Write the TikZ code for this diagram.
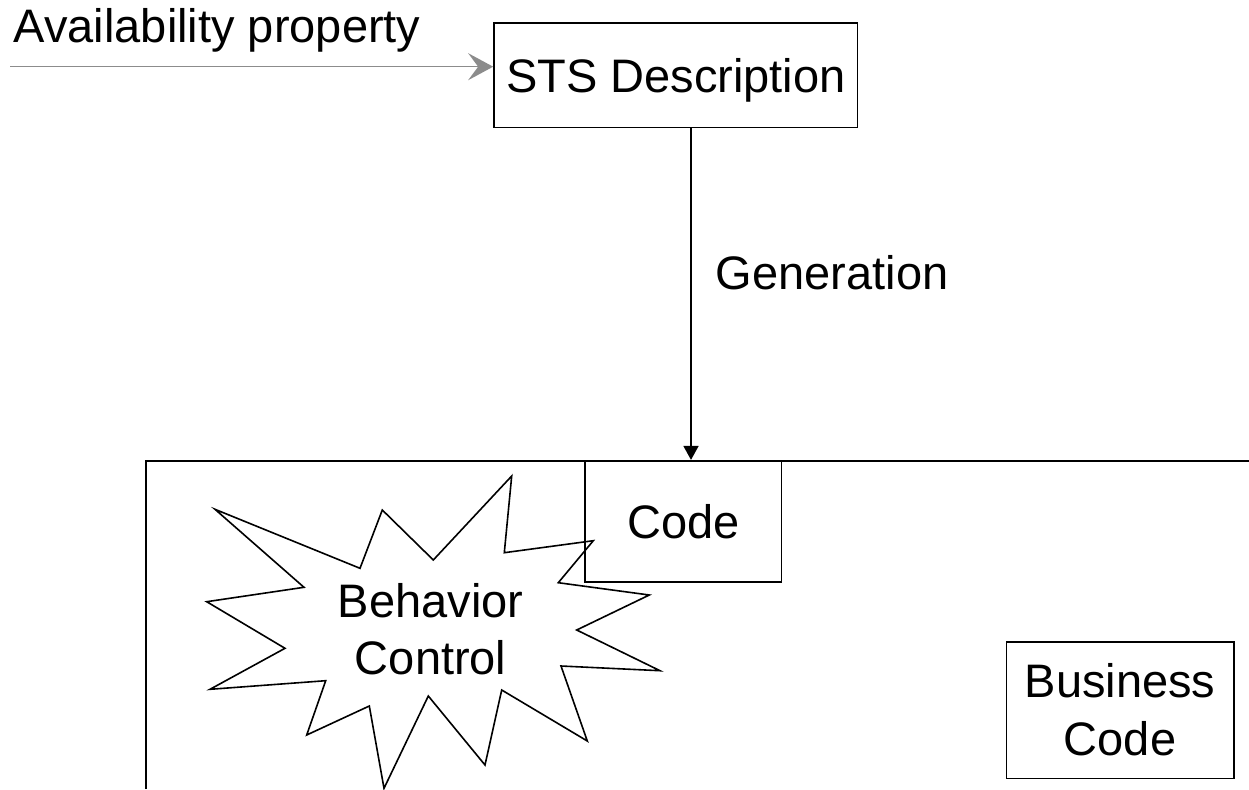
\documentclass[tikz,border=0pt]{standalone}
\usepackage{fontspec}
\setmainfont{Liberation Sans}
\usetikzlibrary{arrows.meta}
\definecolor{linegray}{RGB}{140,140,140}
\begin{document}
\begin{tikzpicture}[x=1pt,y=-1pt,line width=1.6pt,line join=miter,
  every node/.style={font=\fontsize{47}{57}\selectfont,inner sep=0pt},
  box/.style={draw,rectangle},
  oneline/.style={text height=34pt,text depth=0pt},
  inflow/.style={draw=linegray,-{Stealth[length=25pt,width=27pt,inset=10pt,fill=linegray]}},
  flow/.style={-{Triangle[length=14pt,width=15pt]}}]
\useasboundingbox (0,0) rectangle (1249,789);

% boxes
\node[box,oneline,minimum width=363.7pt,minimum height=104.3pt] (sts) at (675.8,75.2) {STS Description};
\node[box,oneline,minimum width=196.7pt,minimum height=121pt] (code) at (683.3,521.2) {Code};
\node[box,align=center,minimum width=227.4pt,minimum height=136.6pt,font=\fontsize{47}{58.3}\selectfont] (biz) at (1120,710) {Business\\Code};

% enclosing frame (runs off the page)
\draw (146,789) -- (146,460.7) -- (1249,460.7);

% behaviour-control starburst
\draw (215,509.3) -- (360,568.3) -- (382.3,510) -- (433.3,560) -- (511.7,476)
  -- (504.3,552.7) -- (593.3,540.7) -- (558.3,582.7) -- (649.3,595)
  -- (576.7,630) -- (660,670.7) -- (561,666) -- (587.3,741)
  -- (501.7,690) -- (485,765) -- (428.3,696) -- (384,788.3)
  -- (369.3,706) -- (306.7,735) -- (325.7,680.7) -- (210,689.3)
  -- (285,648.3) -- (206.7,601.7) -- (304,587.3) -- cycle;
\node[align=center,font=\fontsize{47}{56.7}\selectfont] (bc) at (430.7,629.2) {Behavior\\Control};

% labels
\node[anchor=base west] (avail) at (13,43) {Availability property};
\node[anchor=base west] (gen) at (715,289.3) {Generation};

% connectors
\coordinate (src) at (10,66.7);
\coordinate (gx) at (691,0);
\draw[inflow] (src) -- (src -| sts.west);
\draw[flow] (sts.south -| gx) -- (code.north -| gx);
\end{tikzpicture}
\end{document}
